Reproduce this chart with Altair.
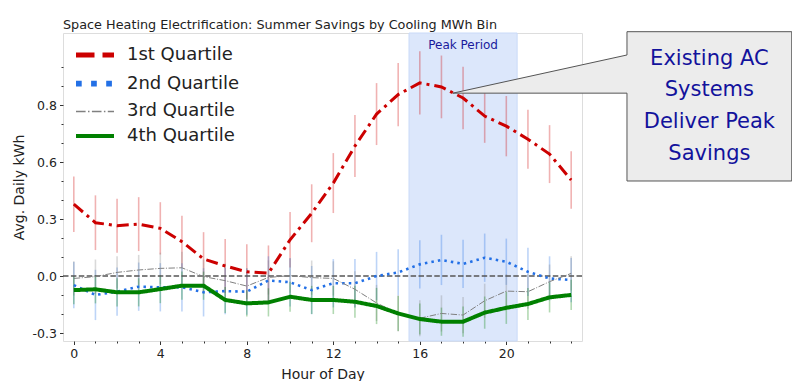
import altair as alt
import pandas as pd

# ---------------- data ----------------
hours = list(range(24))
series_names = ["1st Quartile", "2nd Quartile", "3rd Quartile", "4th Quartile"]

q1_mean = [0.357, 0.265, 0.250, 0.258, 0.237, 0.171, 0.085, 0.050, 0.021, 0.014, 0.180, 0.312,
           0.462, 0.646, 0.805, 0.902, 0.960, 0.940, 0.885, 0.795, 0.745, 0.680, 0.606, 0.477]
q1_err = [0.138, 0.136, 0.134, 0.134, 0.130, 0.128, 0.133, 0.134, 0.137, 0.138, 0.138, 0.144,
          0.149, 0.154, 0.154, 0.157, 0.157, 0.156, 0.155, 0.133, 0.150, 0.147, 0.144, 0.143]

q2_mean = [-0.045, -0.094, -0.078, -0.053, -0.056, -0.056, -0.081, -0.075, -0.078, -0.022, -0.031, -0.070,
           -0.036, -0.036, 0.000, 0.018, 0.058, 0.080, 0.060, 0.091, 0.071, 0.021, -0.012, -0.020]
q2_err = [0.115, 0.125, 0.120, 0.120, 0.120, 0.120, 0.120, 0.115, 0.115, 0.120, 0.120, 0.120,
          0.120, 0.120, 0.120, 0.115, 0.120, 0.125, 0.120, 0.120, 0.115, 0.120, 0.110, 0.110]

q3_mean = [-0.012, -0.003, 0.018, 0.030, 0.038, 0.041, -0.003, -0.023, -0.050, -0.007, 0.002, -0.008,
           -0.012, -0.066, -0.134, -0.186, -0.210, -0.186, -0.194, -0.123, -0.075, -0.078, -0.028, 0.013]
q3_err = [0.085, 0.085, 0.080, 0.075, 0.078, 0.080, 0.085, 0.085, 0.090, 0.085, 0.085, 0.085,
          0.085, 0.090, 0.090, 0.090, 0.090, 0.090, 0.090, 0.085, 0.085, 0.085, 0.085, 0.085]

q4_mean = [-0.070, -0.066, -0.081, -0.081, -0.065, -0.048, -0.048, -0.119, -0.136, -0.131, -0.103, -0.119,
           -0.119, -0.128, -0.149, -0.186, -0.214, -0.227, -0.227, -0.182, -0.158, -0.139, -0.106, -0.094]
q4_err = [0.070, 0.070, 0.070, 0.070, 0.070, 0.070, 0.070, 0.065, 0.065, 0.070, 0.075, 0.070,
          0.070, 0.080, 0.090, 0.087, 0.077, 0.070, 0.075, 0.080, 0.080, 0.080, 0.075, 0.075]

y_tick_values = [-0.2833, 0.0, 0.2833, 0.5667, 0.85]
y_tick_labels = ["-0.3", "0.0", "0.3", "0.6", "0.8"]
y_minor_ticks = [-0.2833, -0.1889, -0.0944, 0.0, 0.0944, 0.1889, 0.2833, 0.3778, 0.4722,
                 0.5667, 0.6611, 0.7556, 0.85, 0.9444, 1.0389]
x_tick_values = list(range(24))
x_major_step = 4

peak_start, peak_end = 15.5, 20.5
callout_lines = ["Existing AC", "Systems", "Deliver Peak", "Savings"]

# ---------------- styles ----------------
FONT = "DejaVu Sans"
colors = ["#cc0000", "#2370e6", "#808080", "#008000"]
line_dash = [[12, 5, 3, 5], [2.5, 4.1], [6.4, 1.6, 1, 1.6], [1, 0]]
line_width = [3, 2.6, 1, 4]
legend_dash = [[18.5, 8], [5.7, 9.4], [9.6, 2.4, 1.5, 2.4], [1, 0]]
legend_width = [5, 5.7, 1.5, 4]

means = [q1_mean, q2_mean, q3_mean, q4_mean]
errs = [q1_err, q2_err, q3_err, q4_err]
rows = []
for name, m, e in zip(series_names, means, errs):
    for h, v, d in zip(hours, m, e):
        rows.append({"series": name, "hour": h, "value": v, "err": d})
df = pd.DataFrame(rows)

W, H = 519, 308
xscale = alt.Scale(domain=[-0.5, 23.5], nice=False, zero=False)
yscale = alt.Scale(domain=[-0.323, 1.208], nice=False, zero=False)

x_major_test = f"datum.value % {x_major_step} === 0"
x_axis = alt.Axis(
    values=x_tick_values, labelExpr=f"{x_major_test} ? datum.label : ''",
    tickSize={"condition": {"test": x_major_test, "value": 3.5}, "value": 2},
    title="Hour of Day", grid=False, domain=False, labelFlush=False, labelOverlap=False,
    labelFontSize=12.5, titleFontSize=14, labelPadding=3, titlePadding=7,
    tickColor="#333", labelColor="#222", titleColor="#222",
    labelFont=FONT, titleFont=FONT, titleFontWeight="normal")

y_label_expr = ""
for v, lab in zip(y_tick_values, y_tick_labels):
    y_label_expr += f"abs(datum.value - ({v})) < 0.005 ? '{lab}' : "
y_label_expr += "''"
y_major_test = " || ".join(f"abs(datum.value - ({v})) < 0.005" for v in y_tick_values)
y_axis = alt.Axis(
    values=y_minor_ticks, labelExpr=y_label_expr,
    tickSize={"condition": {"test": y_major_test, "value": 3.5}, "value": 2},
    title="Avg. Daily kWh", grid=False, domain=False, labelOverlap=False, labelFlush=False,
    labelFontSize=12.5, titleFontSize=14, labelPadding=3, titlePadding=6,
    tickColor="#333", labelColor="#222", titleColor="#222",
    labelFont=FONT, titleFont=FONT, titleFontWeight="normal")

def X(field):
    return alt.X(field, type="quantitative", scale=xscale, axis=x_axis)

def Y(field):
    return alt.Y(field, type="quantitative", scale=yscale, axis=y_axis)

layers = []

# peak period shading
peak = alt.Chart(pd.DataFrame({"start": [peak_start], "end": [peak_end]})).mark_rect(
    color="#dce7fb", stroke="#c9daf8", strokeWidth=1
).encode(x=X("start"), x2="end", y=alt.value(0), y2=alt.value(H))
layers.append(peak)

# error bars
for i, name in enumerate(series_names):
    eb = alt.Chart(df).transform_filter(alt.datum.series == name).transform_calculate(
        lo="datum.value - datum.err", hi="datum.value + datum.err"
    ).mark_rule(color=colors[i], opacity=0.3, strokeWidth=1.6).encode(
        x=X("hour"), y=Y("lo"), y2="hi")
    layers.append(eb)

# zero reference line
zero = alt.Chart(pd.DataFrame({"z": [0.0]})).mark_rule(
    color="#555555", strokeDash=[5.5, 2.4], strokeWidth=1.5).encode(y=Y("z"))
layers.append(zero)

# series lines
for i, name in enumerate(series_names):
    ln = alt.Chart(df).transform_filter(alt.datum.series == name).mark_line(
        color=colors[i], strokeDash=line_dash[i], strokeWidth=line_width[i]
    ).encode(x=X("hour"), y=Y("value"))
    layers.append(ln)

# legend (built from scales; the layer itself draws nothing)
width_expr = ""
for name, w in zip(series_names, legend_width):
    width_expr += f"datum.value === '{name}' ? {w} : "
width_expr += "2"
leg = alt.Legend(
    title=None, orient="none", legendX=23, legendY=13,
    symbolType="M-1.9,0H1.9", symbolSize=400, labelFontSize=18, labelFont=FONT,
    labelColor="#222", labelOffset=23, rowPadding=6.7, padding=0,
    symbolStrokeWidth=alt.ExprRef(expr=width_expr))
legend_layer = alt.Chart(df).transform_filter("datum.hour < 0").mark_line().encode(
    x=X("hour"), y=Y("value"),
    color=alt.Color("series:N", scale=alt.Scale(domain=series_names, range=colors), legend=leg),
    strokeDash=alt.StrokeDash("series:N", scale=alt.Scale(domain=series_names, range=legend_dash), legend=leg))
layers.append(legend_layer)

# peak period label
peak_lbl = alt.Chart(pd.DataFrame({"h": [(peak_start + peak_end) / 2]})).mark_text(
    text="Peak Period", font=FONT, fontSize=12, color="#1a1a9c", baseline="alphabetic"
).encode(x=X("h"), y=alt.value(16))
layers.append(peak_lbl)

# callout (annotation geometry in data units)
bx0, bx1, by0, by1 = 25.58, 33.2, 0.4724, 1.2145
tip_x, tip_y, base_top = 17.53, 0.909, 1.0987
line_h = 31.7
wedge = alt.Chart(pd.DataFrame({"x": [tip_x, bx0], "y": [tip_y, base_top], "y2": [tip_y, tip_y]})).mark_area(
    color="#ececec", opacity=1).encode(x=X("x"), y=Y("y"), y2="y2")
box = alt.Chart(pd.DataFrame({"x0": [bx0], "x1": [bx1], "y0": [by0], "y1": [by1]})).mark_rect(
    color="#ececec").encode(x=X("x0"), x2="x1", y=Y("y0"), y2="y1")
outline = alt.Chart(pd.DataFrame({
    "o": list(range(8)),
    "x": [bx0, bx0, bx1, bx1, bx0, bx0, tip_x, bx0],
    "y": [tip_y, by0, by0, by1, by1, base_top, tip_y, tip_y]})).mark_line(
    color="#555555", strokeWidth=1).encode(x=X("x"), y=Y("y"), order="o:Q")
ctext = alt.Chart(pd.DataFrame({"x": [(bx0 + bx1) / 2], "y": [(by0 + by1) / 2]})).mark_text(
    text=callout_lines, font=FONT, fontSize=21, lineHeight=line_h, color="#12129c",
    align="center", baseline="middle", dy=-1.5 * line_h).encode(x=X("x"), y=Y("y"))
layers += [wedge, box, outline, ctext]

chart = alt.layer(*layers).properties(
    width=W, height=H,
    title=alt.TitleParams("Space Heating Electrification: Summer Savings by Cooling MWh Bin",
                          anchor="start", fontSize=12.8, font=FONT, fontWeight="normal",
                          color="#222", offset=-2, frame="group"),
    autosize=alt.AutoSizeParams(type="none"),
    padding={"left": 55, "top": 25, "right": 210, "bottom": 40},
).configure_view(stroke="#444", strokeWidth=1).configure(background="white")

chart.save("out.html", embed_options={"renderer": "svg", "actions": False})
